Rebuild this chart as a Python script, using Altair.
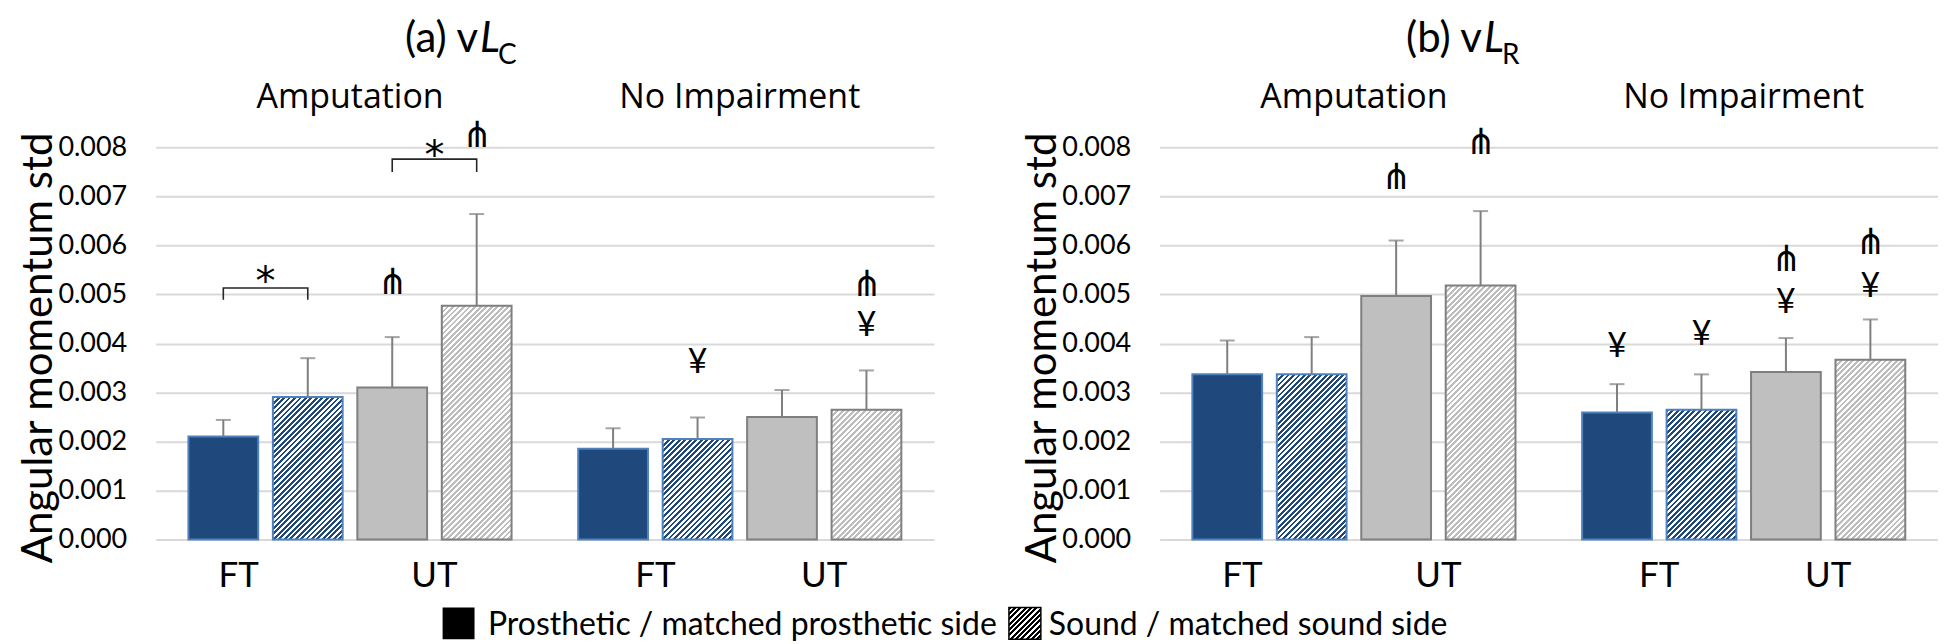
import math
import altair as alt

# ---------------- data ----------------
groups = ["Amputation", "No Impairment"]
bar_keys = ["FT prosthetic", "FT sound", "UT prosthetic", "UT sound"]

# (a) vLC : means and SDs, order = groups x bar_keys
vlc_mean = [0.00210, 0.00291, 0.00310, 0.00477, 0.00185, 0.00205, 0.00250, 0.00265]
vlc_sd = [0.00034, 0.00079, 0.00103, 0.00187, 0.00042, 0.00044, 0.00055, 0.00080]
# (b) vLR
vlr_mean = [0.00337, 0.00337, 0.00497, 0.00518, 0.00259, 0.00265, 0.00342, 0.00367]
vlr_sd = [0.00069, 0.00076, 0.00113, 0.00152, 0.00058, 0.00072, 0.00069, 0.00082]

# significance symbols
vlc_sig_group = ["Amputation", "Amputation", "No Impairment", "No Impairment", "No Impairment"]
vlc_sig_bar = ["UT prosthetic", "UT sound", "FT sound", "UT sound", "UT sound"]
vlc_sig_sym = ["⋔", "⋔", "¥", "¥", "⋔"]
vlc_sig_y = [0.00530, 0.00829, 0.00365, 0.00440, 0.00526]

vlr_sig_group = ["Amputation", "Amputation", "No Impairment", "No Impairment",
                 "No Impairment", "No Impairment", "No Impairment", "No Impairment"]
vlr_sig_bar = ["UT prosthetic", "UT sound", "FT prosthetic", "FT sound",
               "UT prosthetic", "UT prosthetic", "UT sound", "UT sound"]
vlr_sig_sym = ["⋔", "⋔", "¥", "¥", "¥", "⋔", "¥", "⋔"]
vlr_sig_y = [0.00743, 0.00814, 0.00397, 0.00422, 0.00487, 0.00577, 0.00520, 0.00610]

# brackets with * (vLC only)
br_group = ["Amputation", "Amputation"]
br_left = ["FT prosthetic", "UT prosthetic"]
br_right = ["FT sound", "UT sound"]
br_top = [0.00513, 0.00776]
br_leg = [0.00489, 0.00750]
br_star = [0.00544, 0.00800]

pair_group = ["Amputation", "Amputation", "No Impairment", "No Impairment"]
pair_bar = ["FT sound", "UT sound", "FT sound", "UT sound"]
pair_label = ["FT", "UT", "FT", "UT"]

y_ticks = [0.000, 0.001, 0.002, 0.003, 0.004, 0.005, 0.006, 0.007, 0.008]
legend_labels = ["Prosthetic / matched prosthetic side", "Sound / matched sound side"]

# ---------------- layout / style ----------------
W, H = 780, 393
PAD_IN_G, PAD_OUT_G, PAD_IN_B = 0.171, 0.084, 0.174
BAND = W / (2 - PAD_IN_G + 2 * PAD_OUT_G) * (1 - PAD_IN_G)
STEP_B = BAND / (4 - PAD_IN_B)
BAR_W = STEP_B * (1 - PAD_IN_B)
PX = H / 0.008

NAVY = "#1F497D"
NAVY_EDGE = "#4F81BD"
GRAY = "#BFBFBF"
GRAY_EDGE = "#7F7F7F"
GRAY_STRIPE = "#BDBDBD"
ERR = "#7F7F7F"
GRID = "#D9D9D9"
FONT = "Lato"


def hatch(color, w, h, period=3.9):
    """Diagonal '/' stripes as a hard-stop linear gradient."""
    s = (w + h) / (w * w + h * h)
    n = max(1, round((w + h) / (math.sqrt(2) * period)))
    stops = []
    for i in range(n):
        a, b, c = i / n, (i + 0.52) / n, (i + 1) / n
        stops += [
            {"offset": round(a, 5), "color": color},
            {"offset": round(b, 5), "color": color},
            {"offset": round(b, 5), "color": "white"},
            {"offset": round(c, 5), "color": "white"},
        ]
    return {"gradient": "linear", "x1": 0, "y1": 0,
            "x2": round(s * w, 5), "y2": round(s * h, 5), "stops": stops}


def xenc():
    return alt.X("group:N", axis=None,
                 scale=alt.Scale(domain=groups, paddingInner=PAD_IN_G, paddingOuter=PAD_OUT_G))


def xoenc(field="bar:N"):
    return alt.XOffset(field, scale=alt.Scale(domain=bar_keys, paddingInner=PAD_IN_B, paddingOuter=0))


def panel(means, sds, sg, sb, ss, sy, t_main, t_sub, brackets=False, legend=False):
    recs = []
    i = 0
    for g in groups:
        for b in bar_keys:
            m, sd = means[i], sds[i]
            navy = b.startswith("FT")
            sound = b.endswith("sound")
            if sound:
                fill = hatch(NAVY if navy else GRAY_STRIPE, BAR_W, m * PX)
            else:
                fill = NAVY if navy else GRAY
            recs.append({"group": g, "bar": b, "mean": m, "top": m + sd,
                         "fillv": fill, "strokev": NAVY_EDGE if navy else GRAY_EDGE})
            i += 1
    data = alt.Data(values=recs)

    yaxis = alt.Axis(values=y_ticks, format=".3f", labelFont=FONT, labelFontSize=27,
                     labelColor="black", labelPadding=29, ticks=False, domain=False,
                     grid=True, gridColor=GRID, gridWidth=2,
                     title="Angular momentum std", titleFont=FONT, titleFontSize=42,
                     titleFontWeight="normal", titleColor="black", titleX=-104,
                     titleY=H / 2 + 4, titleAngle=270, titleAlign="center",
                     titleBaseline="alphabetic")
    y = alt.Y("mean:Q", scale=alt.Scale(domain=[0, 0.008], nice=False), stack=None, axis=yaxis)

    bars = alt.Chart(data).mark_bar(strokeWidth=2).encode(
        x=xenc(), xOffset=xoenc(), y=y,
        fill=alt.Fill("fillv:N", scale=None),
        stroke=alt.Stroke("strokev:N", scale=None),
    )
    err = alt.Chart(data).mark_rule(color=ERR, strokeWidth=2).encode(
        x=xenc(), xOffset=xoenc(), y="mean:Q", y2="top:Q")
    cap = alt.Chart(data).mark_tick(color=ERR, thickness=2, size=15, orient="horizontal").encode(
        x=xenc(), xOffset=xoenc(), y="top:Q")

    glab = alt.Chart(alt.Data(values=[{"group": g} for g in groups])).mark_text(
        font="Open Sans", fontSize=34, baseline="alphabetic", color="black").encode(
        x=xenc(), y=alt.value(-39), text="group:N")

    prs = [{"group": g, "bar": b, "label": l, "shift": (g == groups[0] and l == "FT")}
           for g, b, l in zip(pair_group, pair_bar, pair_label)]
    pdata = alt.Data(values=prs)
    plab_c = alt.Chart(pdata).transform_filter("!datum.shift").mark_text(
        font=FONT, fontSize=35, baseline="middle", dx=-STEP_B / 2, color="black").encode(
        x=xenc(), xOffset=xoenc(), y=alt.value(H + 37), text="label:N")
    plab_s = alt.Chart(pdata).transform_filter("datum.shift").mark_text(
        font=FONT, fontSize=35, baseline="middle", dx=-STEP_B / 2 - 27, color="black").encode(
        x=xenc(), xOffset=xoenc(), y=alt.value(H + 37), text="label:N")

    sdata = alt.Data(values=[{"group": g, "bar": b, "sym": s, "y": v}
                             for g, b, s, v in zip(sg, sb, ss, sy)])
    pitch = alt.Chart(sdata).transform_filter("datum.sym == '⋔'").mark_text(
        font="DejaVu Sans", fontSize=36, baseline="middle", dy=3, color="black").encode(
        x=xenc(), xOffset=xoenc(), y="y:Q", text="sym:N")
    yen = alt.Chart(sdata).transform_filter("datum.sym == '¥'").mark_text(
        font=FONT, fontSize=34, baseline="middle", dy=2, color="black").encode(
        x=xenc(), xOffset=xoenc(), y="y:Q", text="sym:N")

    t1 = alt.Chart(alt.Data(values=[{"t": t_main[0]}])).mark_text(
        font=FONT, fontSize=42, align="right", baseline="alphabetic", color="black").encode(
        x=alt.value(323), y=alt.value(-96), text="t:N")
    t2 = alt.Chart(alt.Data(values=[{"t": t_main[1]}])).mark_text(
        font=FONT, fontSize=42, fontStyle="italic", align="left", baseline="alphabetic",
        color="black").encode(x=alt.value(325), y=alt.value(-96), text="t:N")
    t3 = alt.Chart(alt.Data(values=[{"t": t_sub}])).mark_text(
        font=FONT, fontSize=28, align="left", baseline="alphabetic", color="black").encode(
        x=alt.value(343), y=alt.value(-84), text="t:N")

    layers = [bars, err, cap, glab, plab_c, plab_s, pitch, yen, t1, t2, t3]

    if brackets:
        pts = []
        for k, (g, bl, br, tp, lg) in enumerate(zip(br_group, br_left, br_right, br_top, br_leg)):
            pts += [{"id": k, "o": 0, "group": g, "bar": bl, "y": lg},
                    {"id": k, "o": 1, "group": g, "bar": bl, "y": tp},
                    {"id": k, "o": 2, "group": g, "bar": br, "y": tp},
                    {"id": k, "o": 3, "group": g, "bar": br, "y": lg}]
        brl = alt.Chart(alt.Data(values=pts)).mark_line(color="#262626", strokeWidth=1.6).encode(
            x=xenc(), xOffset=xoenc(), y="y:Q", detail="id:N", order="o:Q")
        stars = alt.Chart(alt.Data(values=[{"group": g, "bar": b, "y": v, "s": "*"}
                                           for g, b, v in zip(br_group, br_right, br_star)])).mark_text(
            font="DejaVu Sans", fontSize=40, baseline="middle", dx=-STEP_B / 2, dy=9,
            color="black").encode(
            x=xenc(), xOffset=xoenc(), y="y:Q", text="s:N")
        layers += [brl, stars]

    if legend:
        sq1 = alt.Chart(alt.Data(values=[{"k": 0}])).mark_square(
            size=1024, fill="black", opacity=1).encode(x=alt.value(303.5), y=alt.value(477))
        sq2 = alt.Chart(alt.Data(values=[{"k": 1}])).mark_square(
            size=1024, fill=hatch("black", 32, 32), stroke="black", strokeWidth=1.5,
            opacity=1).encode(x=alt.value(871), y=alt.value(477))
        lt1 = alt.Chart(alt.Data(values=[{"t": legend_labels[0]}])).mark_text(
            font=FONT, fontSize=32, align="left", baseline="alphabetic", color="black").encode(
            x=alt.value(333), y=alt.value(489), text="t:N")
        lt2 = alt.Chart(alt.Data(values=[{"t": legend_labels[1]}])).mark_text(
            font=FONT, fontSize=32, align="left", baseline="alphabetic", color="black").encode(
            x=alt.value(895), y=alt.value(489), text="t:N")
        layers += [sq1, sq2, lt1, lt2]

    return alt.layer(*layers).properties(width=W, height=H)


left = panel(vlc_mean, vlc_sd, vlc_sig_group, vlc_sig_bar, vlc_sig_sym, vlc_sig_y,
             ["(a) v", "L"], "C", brackets=True, legend=True)
right = panel(vlr_mean, vlr_sd, vlr_sig_group, vlr_sig_bar, vlr_sig_sym, vlr_sig_y,
              ["(b) v", "L"], "R")

chart = alt.hconcat(left, right, spacing=226, bounds="flush").properties(
    padding={"left": 9, "top": 9, "right": 0, "bottom": 0},
    background="white",
).configure_view(stroke=None)

chart.save("out.html", embed_options={"renderer": "svg", "actions": False})
